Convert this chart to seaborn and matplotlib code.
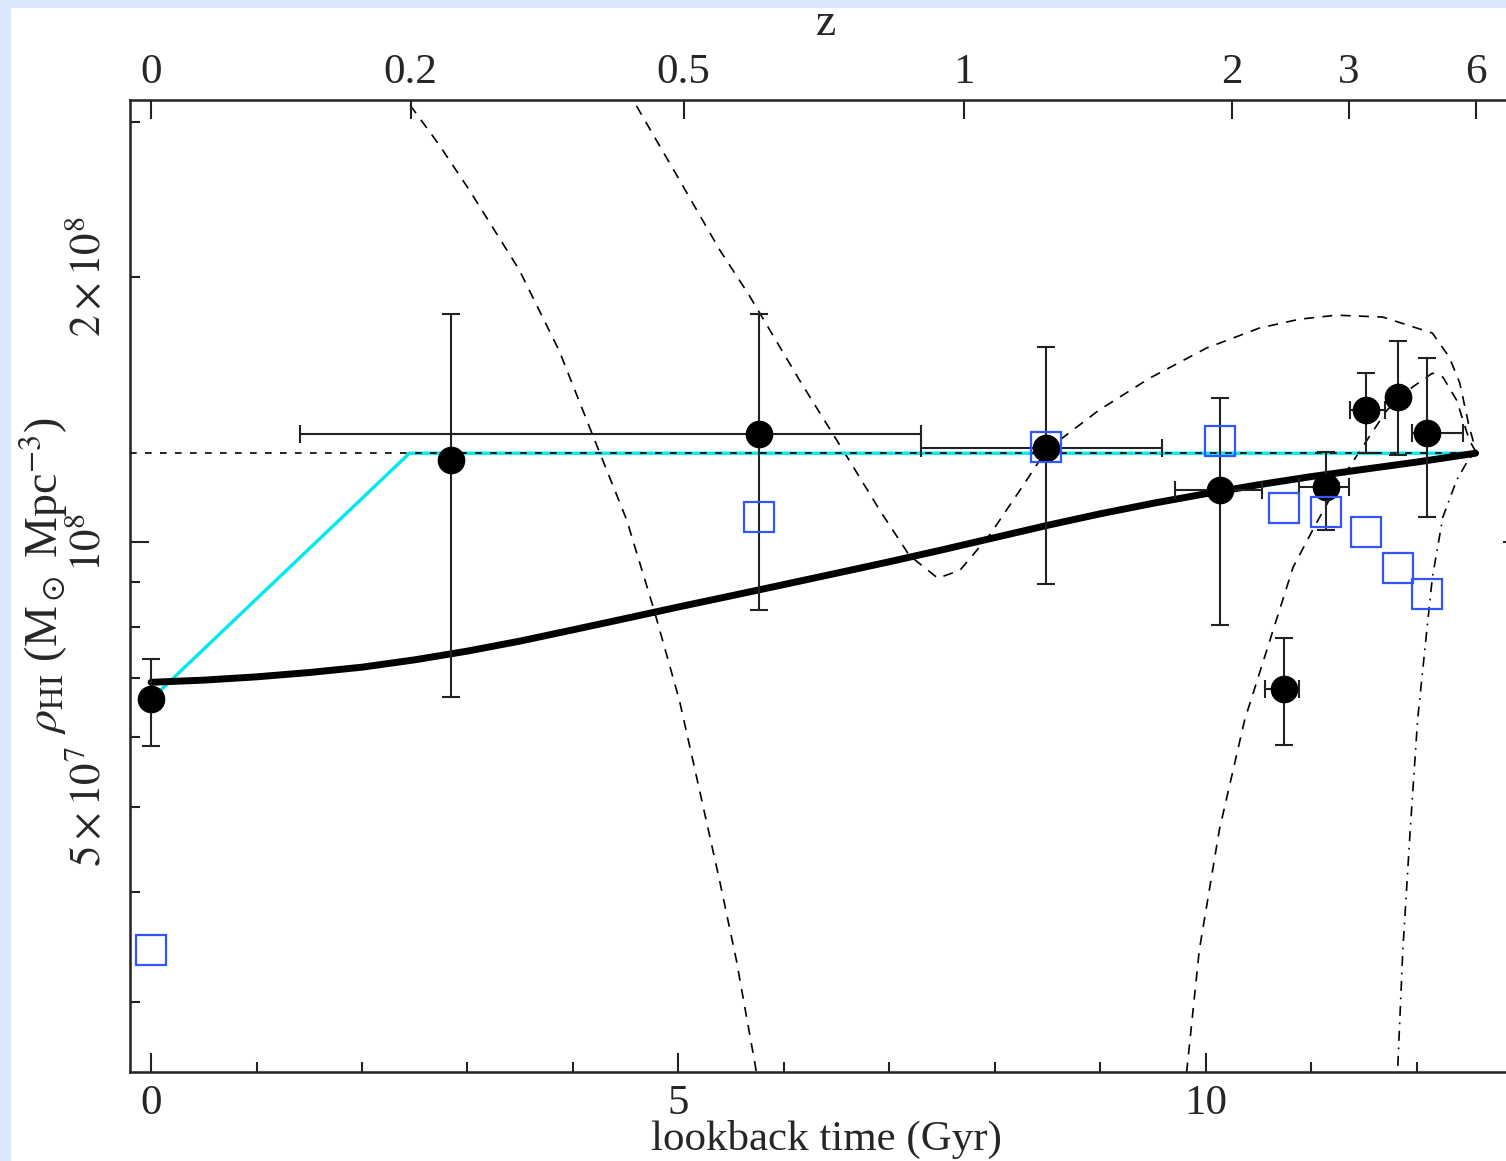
import matplotlib
matplotlib.use('Agg')
import matplotlib.pyplot as plt
import matplotlib.patches as mpatches
import numpy as np
import seaborn as sns

# lookback time in Gyr, densities in units of 1e8 Msun Mpc^-3
pt_t = [0.0, 2.84, 5.76, 8.49, 10.14, 10.74, 11.14, 11.52, 11.82, 12.10]
pt_rho = [0.663, 1.239, 1.326, 1.279, 1.146, 0.681, 1.155, 1.413, 1.461, 1.330]
pt_rho_hi = [0.736, 1.816, 1.816, 1.666, 1.457, 0.778, 1.266, 1.556, 1.692, 1.618]
pt_rho_lo = [0.586, 0.667, 0.837, 0.896, 0.805, 0.588, 1.032, 1.262, 1.256, 1.068]
pt_t_lo = [0.0, 2.84, 1.41, 7.30, 9.71, 10.56, 10.89, 11.37, 11.82, 11.96]
pt_t_hi = [0.0, 2.84, 7.30, 9.59, 10.53, 10.89, 11.36, 11.70, 11.82, 12.44]

sq_t = [0.0, 5.76, 8.49, 10.14, 10.74, 11.14, 11.52, 11.82, 12.10]
sq_rho = [0.344, 1.068, 1.282, 1.303, 1.093, 1.082, 1.026, 0.934, 0.873]

model_t = [0, 0.5, 1, 1.5, 2, 2.5, 3, 3.5, 4, 4.5, 5, 5.5, 6, 6.5, 7, 7.5, 8, 8.5,
           9, 9.5, 10, 10.5, 11, 11.5, 12, 12.56]
model_rho = [0.693, 0.697, 0.703, 0.711, 0.721, 0.735, 0.752, 0.772, 0.795, 0.819, 0.844,
             0.869, 0.895, 0.922, 0.950, 0.980, 1.012, 1.045, 1.077, 1.107, 1.135, 1.162,
             1.187, 1.210, 1.233, 1.262]

cyan_t = [0.0, 2.45, 12.56]
cyan_rho = [0.663, 1.262, 1.262]

flat_t = [-0.2, 12.56]
flat_rho = [1.262, 1.262]

curveA_t = [2.35, 2.42, 2.73, 3.02, 3.49, 3.87, 4.18, 4.51, 4.77, 5.01, 5.20, 5.39, 5.55, 5.72, 5.77]
curveA_rho = [3.26, 3.18, 2.83, 2.51, 2.04, 1.65, 1.33, 1.06, 0.837, 0.661, 0.523, 0.413, 0.335, 0.258, 0.238]

curveB_t = [4.51, 4.57, 5.01, 5.39, 5.67, 6.15, 6.62, 6.91, 7.19, 7.46, 7.67, 7.95, 8.24, 8.49,
            8.99, 9.47, 10.01, 10.51, 10.89, 11.24, 11.68, 12.15, 12.31, 12.41, 12.50, 12.57]
curveB_rho = [3.26, 3.18, 2.58, 2.15, 1.909, 1.527, 1.239, 1.087, 0.966, 0.910, 0.929, 1.018, 1.146,
              1.272, 1.413, 1.536, 1.662, 1.751, 1.792, 1.811, 1.802, 1.728, 1.623, 1.516, 1.351, 1.262]

curveC_t = [9.80, 9.82, 9.94, 10.13, 10.37, 10.61, 10.83, 11.05, 11.24, 11.53, 11.72, 11.96,
            12.15, 12.25, 12.38, 12.50, 12.57]
curveC_rho = [0.238, 0.250, 0.344, 0.471, 0.628, 0.774, 0.937, 1.051, 1.155, 1.306, 1.413, 1.50,
              1.556, 1.540, 1.450, 1.306, 1.262]

curveD_t = [11.81, 11.82, 11.87, 11.94, 12.01, 12.08, 12.15, 12.25, 12.38, 12.50, 12.57]
curveD_rho = [0.238, 0.250, 0.344, 0.471, 0.628, 0.758, 0.912, 1.068, 1.176, 1.246, 1.262]

z_labels = ['0', '0.2', '0.5', '1', '2', '3', '6']
z_t = [0, 2.46, 5.05, 7.71, 10.25, 11.36, 12.56]

sns.set_style('ticks')
plt.rcParams['font.family'] = ['Liberation Serif', 'DejaVu Serif']
plt.rcParams['mathtext.fontset'] = 'stix'

fig = plt.figure(figsize=(15.06, 11.61), dpi=100)
fig.patch.set_facecolor('#d8e7fb')
fig.patches.append(mpatches.Rectangle((11 / 1506, 0), 1, 1 - 8 / 1161, transform=fig.transFigure,
                                      facecolor='white', edgecolor='none', zorder=-10))
ax = fig.add_axes([130 / 1506, 89 / 1161, 1392 / 1506, 972 / 1161])
ax.set_facecolor('white')

E = 1e8
def sc(v):
    return [x * E for x in v]

dash = (0, (6, 5))
for tt, rr, ls in [(curveA_t, curveA_rho, dash), (curveB_t, curveB_rho, dash),
                   (curveC_t, curveC_rho, dash), (curveD_t, curveD_rho, (0, (6, 4, 1, 4)))]:
    sns.lineplot(x=tt, y=sc(rr), sort=False, estimator=None, color='black', lw=1.2,
                 linestyle=ls, ax=ax, zorder=2)

sns.lineplot(x=cyan_t, y=sc(cyan_rho), sort=False, estimator=None, color='#00e8f0', lw=2.4, ax=ax, zorder=3)
sns.lineplot(x=flat_t, y=sc(flat_rho), sort=False, estimator=None, color='black', lw=1.2,
             linestyle=(0, (4, 5)), ax=ax, zorder=4)
sns.lineplot(x=model_t, y=sc(model_rho), sort=False, estimator=None, color='black', lw=5,
             solid_joinstyle='round', ax=ax, zorder=5)

rho = np.array(sc(pt_rho))
yerr = [rho - np.array(sc(pt_rho_lo)), np.array(sc(pt_rho_hi)) - rho]
ax.errorbar(pt_t, rho, yerr=yerr, fmt='none', ecolor='#222222', elinewidth=1.5,
            capsize=6.5, capthick=1.5, zorder=6)
t = np.array(pt_t)
has_x = np.array(pt_t_hi) - np.array(pt_t_lo) > 0
xerr = [(t - np.array(pt_t_lo))[has_x], (np.array(pt_t_hi) - t)[has_x]]
ax.errorbar(t[has_x], rho[has_x], xerr=xerr, fmt='none', ecolor='#222222', elinewidth=1.5,
            capsize=6.5, capthick=1.5, zorder=6)

sns.scatterplot(x=pt_t, y=rho, color='black', s=340, edgecolor='black', ax=ax, zorder=7)
ax.plot(sq_t, sc(sq_rho), linestyle='none', marker='s', markersize=21, markerfacecolor='none',
        markeredgecolor='#3355ff', markeredgewidth=1.6, zorder=8)

ax.set_xlim(-0.2, 13.0)
ax.set_yscale('log')
ax.set_ylim(2.5e7, 3.18e8)

ax.set_xticks([0, 5, 10], ['0', '5', '10'])
ax.set_xticks([1, 2, 3, 4, 6, 7, 8, 9, 11, 12], minor=True)
ax.set_yticks([1e8], [r'$10^8$'])
minor_y = [3e7, 4e7, 5e7, 6e7, 7e7, 8e7, 9e7, 2e8, 3e8]
minor_lab = ['', '', r'$5\times10^7$', '', '', '', '', r'$2\times10^8$', '']
ax.set_yticks(minor_y, minor_lab, minor=True)

ax.tick_params(axis='both', which='both', direction='in', width=1.5, color='#222222', labelsize=31)
ax.tick_params(axis='both', which='major', length=14)
ax.tick_params(axis='both', which='minor', length=7)
ax.tick_params(axis='x', which='both', top=False, bottom=True, pad=9)
ax.tick_params(axis='y', which='both', left=True, right=True, pad=15, labelrotation=90)
for lab in ax.get_yticklabels(which='both'):
    lab.set_va('center')

for s in ax.spines.values():
    s.set_linewidth(1.8)
    s.set_color('#222222')

ax.set_xlabel('lookback time (Gyr)', fontsize=31)
ax.xaxis.set_label_coords(0.5, -0.0495)
ax.set_ylabel(r'$\rho_{\rm HI}$ (M$_\odot$ Mpc$^{-3}$)', fontsize=33)
ax.yaxis.set_label_coords(-0.043, 0.51)

ax2 = ax.twiny()
ax2.set_xlim(ax.get_xlim())
ax2.set_xticks(z_t, z_labels)
ax2.tick_params(axis='x', which='major', direction='in', length=14, width=1.5, color='#222222',
                labelsize=31, pad=6)
ax2.set_xlabel('z', fontsize=33)
ax2.xaxis.set_label_coords(0.5, 1.067)

fig.savefig('out.png', dpi=100, facecolor=fig.get_facecolor())
